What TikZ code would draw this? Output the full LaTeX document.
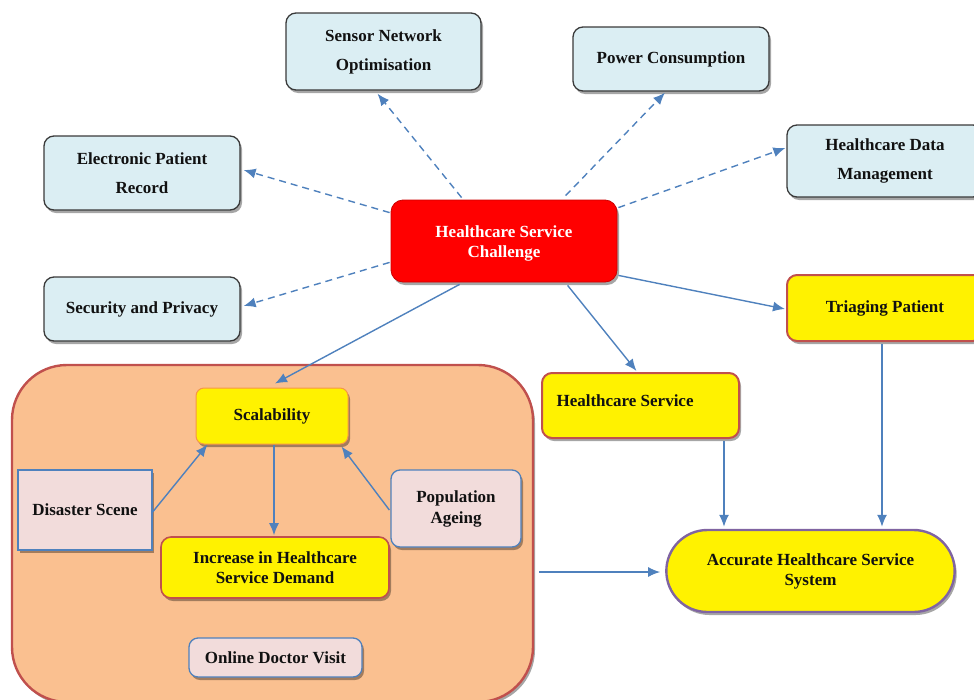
\documentclass[tikz,border=0pt]{standalone}
\usepackage{fontspec}
\setmainfont{Liberation Serif}
\usetikzlibrary{arrows.meta,shadows,calc,shapes.misc}

\definecolor{arrowblue}{HTML}{4F81BD}
\definecolor{paleblue}{HTML}{DBEEF3}
\definecolor{boxedge}{HTML}{3A3A3A}
\definecolor{brickred}{HTML}{C0504D}
\definecolor{peach}{HTML}{FAC090}
\definecolor{blush}{HTML}{F2DCDB}
\definecolor{amber}{HTML}{F79646}
\definecolor{violet}{HTML}{8064A2}
\definecolor{ink}{HTML}{111111}

\tikzset{
  shade/.style={drop shadow={shadow xshift=2pt,shadow yshift=-3pt,fill=black,opacity=.35}},
  loose/.style={font=\bfseries\fontsize{17}{29}\selectfont,text=ink,align=center},
  tight/.style={font=\bfseries\fontsize{17}{20}\selectfont,text=ink,align=center},
  topicbox/.style={loose,shade,rounded corners=10pt,draw=boxedge,line width=1.3pt,fill=paleblue},
  yellowbox/.style={tight,shade,rounded corners=10pt,draw=brickred,line width=2pt,fill=yellow},
  pinkbox/.style={tight,shade,rounded corners=9pt,draw=arrowblue,line width=1.3pt,fill=blush},
  link/.style={draw=arrowblue,line width=1.4pt,-{Latex[length=12pt,width=10pt]}},
  dashlink/.style={link,dash pattern=on 7pt off 5pt},
}

\begin{document}
\begin{tikzpicture}[x=1pt,y=-1pt]
\useasboundingbox (0,0) rectangle (974,699);
\clip (0,0) rectangle (974,699);

% outer topic cards
\node[topicbox,minimum width=195pt,minimum height=77pt] (sensor) at (383.5,51.5) {Sensor Network\\Optimisation};
\node[topicbox,minimum width=196pt,minimum height=64pt] (power) at (671,59) {Power Consumption};
\node[topicbox,minimum width=196pt,minimum height=74pt] (epr) at (142,173) {Electronic Patient\\Record};
\node[topicbox,minimum width=196pt,minimum height=72pt] (hdm) at (885,161) {Healthcare Data\\Management};
\node[topicbox,minimum width=196pt,minimum height=64pt] (sec) at (142,309) {Security and Privacy};

% central challenge
\node[shade,rounded corners=12pt,draw=red!80!black,line width=0.8pt,fill=red,
      minimum width=226pt,minimum height=82pt] (chal) at (504,241) {};
\node[tight,text=white] (chaltext) at (504,243) {Healthcare Service\\Challenge};

% right-hand branch
\node[yellowbox,minimum width=196pt,minimum height=66pt] (tri) at (885,308) {Triaging Patient};
\node[yellowbox,minimum width=197pt,minimum height=65pt] (hs) at (640.5,405.5) {};
\node[tight,anchor=west] (hstext) at (553,401) {Healthcare Service};
\node[tight,shade,rounded rectangle,draw=violet,line width=2.4pt,fill=yellow,
      minimum width=295pt,minimum height=82pt] (acc) at (810.5,571) {Accurate Healthcare Service\\System};

% scalability group
\node[shade,rounded corners=55pt,draw=brickred,line width=2.4pt,fill=peach,
      minimum width=521pt,minimum height=337pt] (group) at (272.5,533.5) {};
\node[tight,shade,rounded corners=8pt,draw=amber,line width=1pt,fill=yellow,
      minimum width=152pt,minimum height=56pt] (scal) at (272,416) {Scalability};
\node[pinkbox,rounded corners=0pt,minimum width=134pt,minimum height=80pt] (dis) at (85,510) {Disaster Scene};
\node[pinkbox,minimum width=130pt,minimum height=77pt] (pop) at (456,508.5) {Population\\[1pt]Ageing};
\node[yellowbox,line width=1.6pt,minimum width=228pt,minimum height=61pt] (inc) at (275,567.5) {Increase in Healthcare\\Service Demand};
\node[pinkbox,minimum width=173pt,minimum height=39pt] (odv) at (275.5,657.5) {Online Doctor Visit};

% dashed links to topics
\draw[dashlink] ($(chal.north west)+(71,-2)$) -- ($(sensor.south)+(-6,3)$);
\draw[dashlink] ($(chal.north west)+(175,-4)$) -- ($(power.south)+(-6,1)$);
\draw[dashlink] ($(chal.north west)+(-1,13)$) -- ($(epr.east)+(3,-3)$);
\draw[dashlink] ($(chal.north east)+(1,8)$) -- ($(hdm.west)+(-1,-13)$);
\draw[dashlink] ($(chal.south west)+(-1,-20)$) -- ($(sec.east)+(3,-3)$);

% solid links
\draw[link] ($(chal.south west)+(69,2)$) -- ($(scal.north)+(3,-4)$);
\draw[link] ($(chal.south west)+(177,3)$) -- ($(hs.north)+(-4,-1)$);
\draw[link] ($(chal.south east)+(1,-7)$) -- ($(tri.west)+(-1,1)$);
\draw[link] ($(hs.south)+(83.5,2)$) -- ($(acc.north)+(-86.5,-2)$);
\draw[link] ($(tri.south)+(-3,2)$) -- ($(acc.north)+(71.5,-2)$);
\draw[link] ($(group.east)+(5,38.5)$) -- ($(acc.west)+(-5,1)$);
\draw[link] ($(dis.east)+(0,2)$) -- ($(scal.south west)+(12,0)$);
\draw[link] ($(pop.west)+(-1,1.5)$) -- ($(scal.south east)+(-7,2)$);
\draw[link] ($(scal.south)+(2,0)$) -- ($(inc.north)+(-1,-1)$);
\end{tikzpicture}
\end{document}
